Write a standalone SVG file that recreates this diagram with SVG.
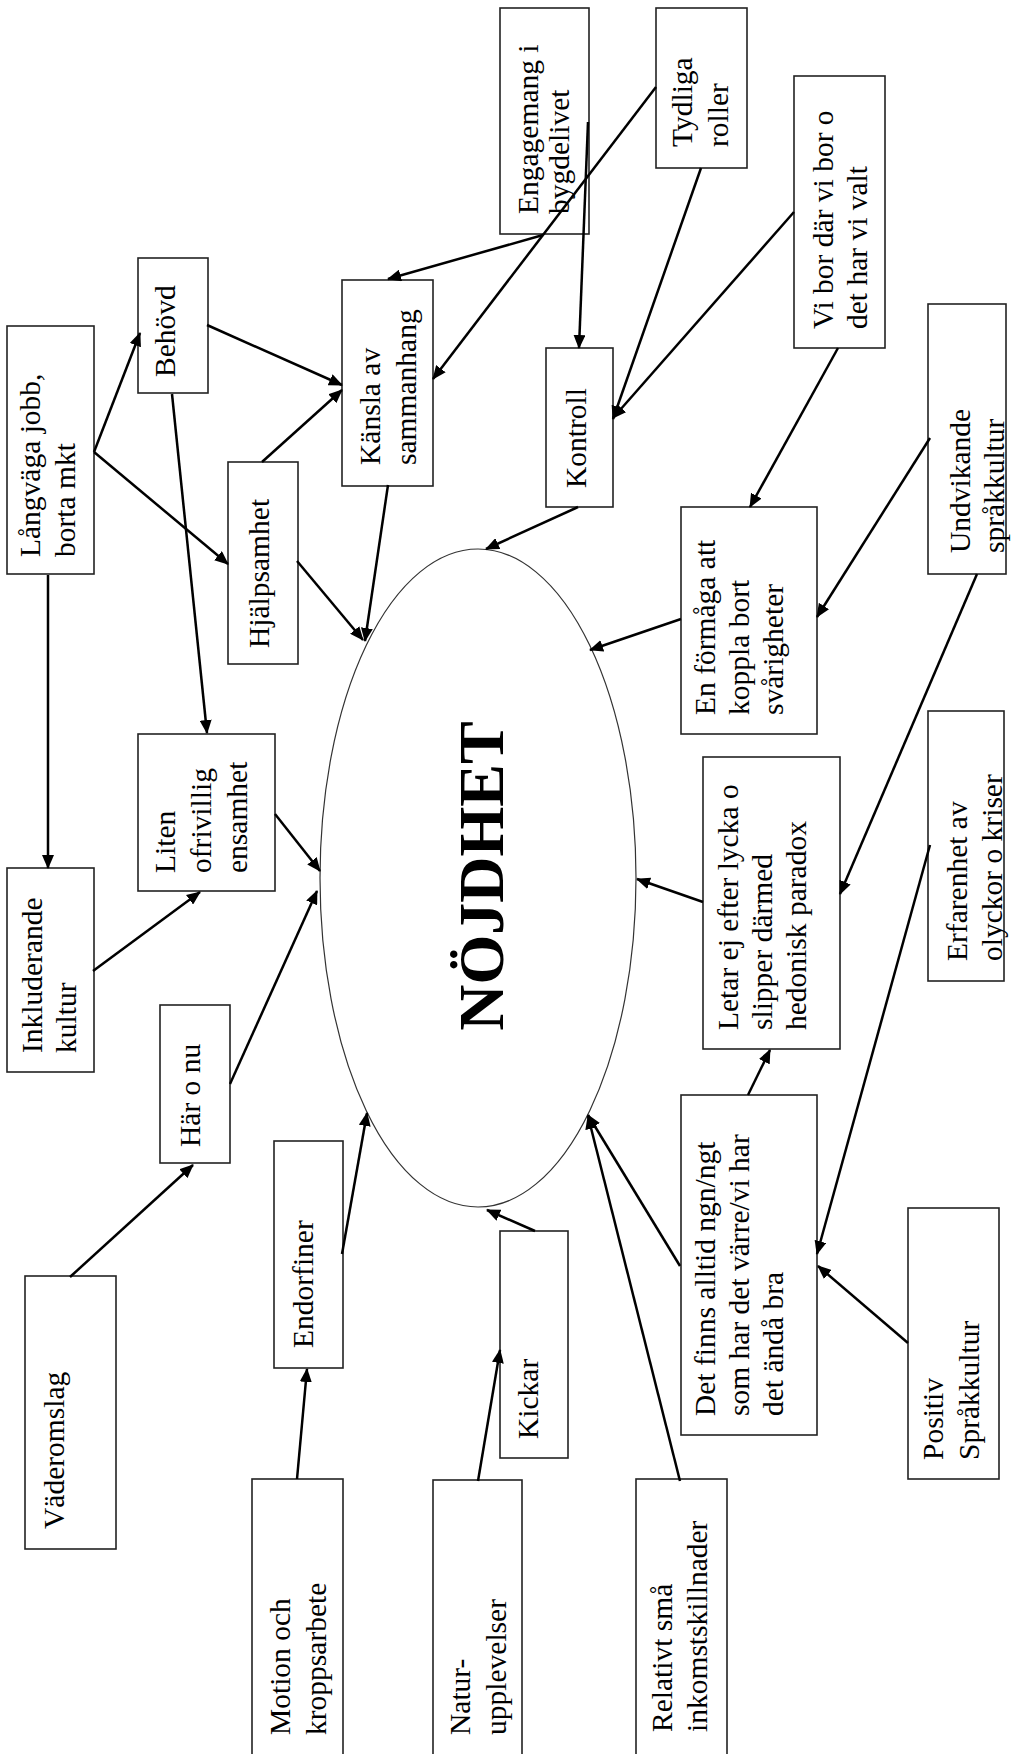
<svg xmlns="http://www.w3.org/2000/svg" width="1011" height="1754" viewBox="0 0 1011 1754">
<style>
.box{fill:#fff;stroke:#222;stroke-width:1.6}
.t{font-family:"Liberation Serif","Times New Roman",serif;font-size:29.5px;fill:#000}
.c{stroke:#000;stroke-width:2.5;fill:none;marker-end:url(#ah)}
.ell{fill:#fff;stroke:#333;stroke-width:1.2}
.big{font-family:"Liberation Serif","Times New Roman",serif;font-size:64px;font-weight:bold;fill:#000}
</style>
<defs>
<marker id="ah" markerUnits="userSpaceOnUse" markerWidth="14" markerHeight="12" refX="13" refY="6" orient="auto">
<path d="M0,0 L14,6 L0,12 z" fill="#000"/>
</marker>
</defs>
<rect width="1011" height="1754" fill="#fff"/>

<g id="n-ellipse">
<ellipse class="ell" cx="478" cy="878" rx="158" ry="329"/>
<text class="big" text-anchor="middle" transform="translate(503,876) rotate(-90)">NÖJDHET</text>
</g>

<g id="n-langvaga"><rect class="box" x="7" y="326" width="87" height="248"/>
<text class="t" transform="translate(40,557) rotate(-90)"><tspan x="0" y="0">Långväga jobb,</tspan><tspan x="0" dy="35">borta mkt</tspan></text></g>

<g id="n-behovd"><rect class="box" x="138" y="258" width="70" height="135"/>
<text class="t" transform="translate(175,377) rotate(-90)">Behövd</text></g>

<g id="n-kansla"><rect class="box" x="342" y="280" width="91" height="206"/>
<text class="t" transform="translate(380,465) rotate(-90)"><tspan x="0" y="0">Känsla av</tspan><tspan x="0" dy="36">sammanhang</tspan></text></g>

<g id="n-hjalpsamhet"><rect class="box" x="228" y="462" width="70" height="202"/>
<text class="t" transform="translate(269,648) rotate(-90)">Hjälpsamhet</text></g>

<g id="n-engagemang"><rect class="box" x="500" y="8" width="89" height="226"/>
<text class="t" transform="translate(538,214) rotate(-90)"><tspan x="0" y="0">Engagemang i</tspan><tspan x="0" dy="31">bygdelivet</tspan></text></g>

<g id="n-tydliga"><rect class="box" x="656" y="8" width="91" height="160"/>
<text class="t" transform="translate(692,147) rotate(-90)"><tspan x="0" y="0">Tydliga</tspan><tspan x="0" dy="36">roller</tspan></text></g>

<g id="n-vibor"><rect class="box" x="794" y="76" width="91" height="272"/>
<text class="t" transform="translate(833,329) rotate(-90)"><tspan x="0" y="0">Vi bor där vi bor o</tspan><tspan x="0" dy="34">det har vi valt</tspan></text></g>

<g id="n-kontroll"><rect class="box" x="546" y="348" width="67" height="159"/>
<text class="t" transform="translate(586,488) rotate(-90)">Kontroll</text></g>

<g id="n-undvikande"><rect class="box" x="928" y="304" width="78" height="270"/>
<text class="t" transform="translate(970,553) rotate(-90)"><tspan x="0" y="0">Undvikande</tspan><tspan x="0" dy="34">språkkultur</tspan></text></g>

<g id="n-formaga"><rect class="box" x="681" y="507" width="136" height="227"/>
<text class="t" transform="translate(715,715) rotate(-90)"><tspan x="0" y="0">En förmåga att</tspan><tspan x="0" dy="34">koppla bort</tspan><tspan x="0" dy="34">svårigheter</tspan></text></g>

<g id="n-letar"><rect class="box" x="703" y="757" width="137" height="292"/>
<text class="t" transform="translate(738,1030) rotate(-90)"><tspan x="0" y="0">Letar ej efter lycka o</tspan><tspan x="0" dy="34">slipper därmed</tspan><tspan x="0" dy="34">hedonisk paradox</tspan></text></g>

<g id="n-erfarenhet"><rect class="box" x="928" y="711" width="76" height="270"/>
<text class="t" transform="translate(967,961) rotate(-90)"><tspan x="0" y="0">Erfarenhet av</tspan><tspan x="0" dy="35">olyckor o kriser</tspan></text></g>

<g id="n-detfinns"><rect class="box" x="681" y="1095" width="136" height="340"/>
<text class="t" transform="translate(715,1416) rotate(-90)"><tspan x="0" y="0">Det finns alltid ngn/ngt</tspan><tspan x="0" dy="34">som har det värre/vi har</tspan><tspan x="0" dy="34">det ändå bra</tspan></text></g>

<g id="n-relativt"><rect class="box" x="636" y="1479" width="91" height="285"/>
<text class="t" transform="translate(672,1732) rotate(-90)"><tspan x="0" y="0">Relativt små</tspan><tspan x="0" dy="35">inkomstskillnader</tspan></text></g>

<g id="n-positiv"><rect class="box" x="908" y="1208" width="91" height="271"/>
<text class="t" transform="translate(943,1460) rotate(-90)"><tspan x="0" y="0">Positiv</tspan><tspan x="0" dy="36">Språkkultur</tspan></text></g>

<g id="n-inkluderande"><rect class="box" x="7" y="868" width="87" height="204"/>
<text class="t" transform="translate(42,1053) rotate(-90)"><tspan x="0" y="0">Inkluderande</tspan><tspan x="0" dy="34">kultur</tspan></text></g>

<g id="n-liten"><rect class="box" x="138" y="734" width="137" height="157"/>
<text class="t" transform="translate(175,873) rotate(-90)"><tspan x="0" y="0">Liten</tspan><tspan x="0" dy="36">ofrivillig</tspan><tspan x="0" dy="36">ensamhet</tspan></text></g>

<g id="n-haronu"><rect class="box" x="160" y="1005" width="70" height="158"/>
<text class="t" transform="translate(200,1147) rotate(-90)">Här o nu</text></g>

<g id="n-vaderomslag"><rect class="box" x="25" y="1276" width="91" height="273"/>
<text class="t" transform="translate(64,1529) rotate(-90)">Väderomslag</text></g>

<g id="n-endorfiner"><rect class="box" x="274" y="1141" width="69" height="227"/>
<text class="t" transform="translate(313,1348) rotate(-90)">Endorfiner</text></g>

<g id="n-motion"><rect class="box" x="252" y="1479" width="91" height="285"/>
<text class="t" transform="translate(290,1735) rotate(-90)"><tspan x="0" y="0">Motion och</tspan><tspan x="0" dy="36">kroppsarbete</tspan></text></g>

<g id="n-natur"><rect class="box" x="433" y="1480" width="89" height="284"/>
<text class="t" transform="translate(470,1735) rotate(-90)"><tspan x="0" y="0">Natur-</tspan><tspan x="0" dy="36">upplevelser</tspan></text></g>

<g id="n-kickar"><rect class="box" x="500" y="1231" width="68" height="227"/>
<text class="t" transform="translate(538,1439) rotate(-90)">Kickar</text></g>

<g id="connectors">
<line class="c" x1="94" y1="452" x2="140" y2="333"/>
<line class="c" x1="94" y1="452" x2="228" y2="564"/>
<line class="c" x1="48" y1="575" x2="48" y2="868"/>
<line class="c" x1="207" y1="325" x2="342" y2="385"/>
<line class="c" x1="262" y1="462" x2="342" y2="390"/>
<line class="c" x1="172" y1="394" x2="207" y2="733"/>
<line class="c" x1="388" y1="485" x2="365" y2="641"/>
<line class="c" x1="297" y1="561" x2="363" y2="640"/>
<line class="c" x1="543" y1="235" x2="388" y2="279"/>
<line class="c" x1="656" y1="87" x2="433" y2="379"/>
<line class="c" x1="588" y1="122" x2="579" y2="348"/>
<line class="c" x1="701" y1="168" x2="613" y2="419"/>
<line class="c" x1="794" y1="212" x2="613" y2="418"/>
<line class="c" x1="578" y1="507" x2="486" y2="549"/>
<line class="c" x1="838" y1="348" x2="750" y2="507"/>
<line class="c" x1="930" y1="438" x2="817" y2="617"/>
<line class="c" x1="681" y1="619" x2="590" y2="650"/>
<line class="c" x1="977" y1="574" x2="840" y2="894"/>
<line class="c" x1="703" y1="902" x2="637" y2="879"/>
<line class="c" x1="748" y1="1095" x2="770" y2="1050"/>
<line class="c" x1="930" y1="845" x2="817" y2="1254"/>
<line class="c" x1="908" y1="1343" x2="818" y2="1266"/>
<line class="c" x1="680" y1="1266" x2="588" y2="1115"/>
<line class="c" x1="680" y1="1481" x2="588" y2="1116"/>
<line class="c" x1="93" y1="971" x2="200" y2="892"/>
<line class="c" x1="275" y1="814" x2="320" y2="871"/>
<line class="c" x1="230" y1="1084" x2="317" y2="891"/>
<line class="c" x1="70" y1="1277" x2="193" y2="1165"/>
<line class="c" x1="342" y1="1254" x2="367" y2="1113"/>
<line class="c" x1="297" y1="1479" x2="307" y2="1369"/>
<line class="c" x1="478" y1="1481" x2="500" y2="1350"/>
<line class="c" x1="535" y1="1231" x2="487" y2="1210"/>
</g>
</svg>
